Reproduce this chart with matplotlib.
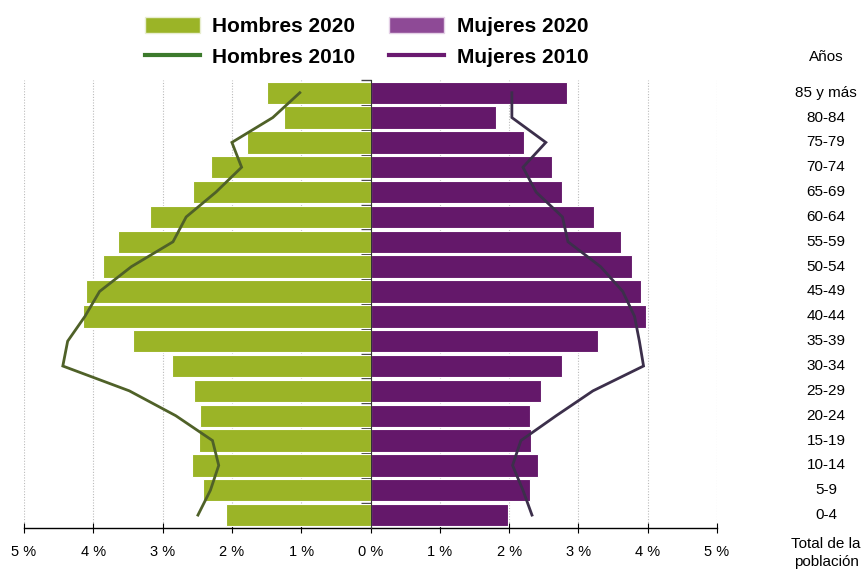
import matplotlib
matplotlib.use("Agg")
import matplotlib.pyplot as plt
from matplotlib.patches import Patch
from matplotlib.lines import Line2D
from matplotlib.transforms import blended_transform_factory
import numpy as np

plt.rcParams['font.family'] = ['Liberation Sans', 'DejaVu Sans']

ages = ["0-4", "5-9", "10-14", "15-19", "20-24", "25-29", "30-34", "35-39", "40-44",
        "45-49", "50-54", "55-59", "60-64", "65-69", "70-74", "75-79", "80-84", "85 y más"]
hombres_2020 = [2.08, 2.42, 2.58, 2.47, 2.46, 2.55, 2.86, 3.42, 4.15,
                4.11, 3.86, 3.64, 3.18, 2.56, 2.30, 1.78, 1.25, 1.50]
mujeres_2020 = [1.98, 2.30, 2.41, 2.31, 2.30, 2.46, 2.77, 3.28, 3.97,
                3.90, 3.77, 3.61, 3.23, 2.76, 2.62, 2.21, 1.81, 2.83]
hombres_2010 = [2.49, 2.31, 2.19, 2.28, 2.81, 3.48, 4.44, 4.37, 4.12,
                3.91, 3.45, 2.85, 2.66, 2.23, 1.86, 2.00, 1.41, 1.02]
mujeres_2010 = [2.33, 2.20, 2.05, 2.17, 2.68, 3.21, 3.94, 3.88, 3.81,
                3.64, 3.32, 2.85, 2.77, 2.39, 2.20, 2.53, 2.04, 2.04]
xticks = [-5, -4, -3, -2, -1, 0, 1, 2, 3, 4, 5]
xticklabels = ["5 %", "4 %", "3 %", "2 %", "1 %", "0 %", "1 %", "2 %", "3 %", "4 %", "5 %"]

GREEN = "#9BB427"
PURPLE = "#64186A"
GREEN_LINE = "#4F6128"
PURPLE_LINE = "#3C2F4B"

fig = plt.figure(figsize=(8.66, 5.73), dpi=100)
ax = fig.add_axes([24/866, 1 - 528/573, (717 - 24)/866, (528 - 80.3)/573])

y = np.arange(len(ages))
ax.barh(y, [-v for v in hombres_2020], height=0.9, color=GREEN, edgecolor="white", linewidth=0.8, zorder=2)
ax.barh(y, mujeres_2020, height=0.9, color=PURPLE, edgecolor="white", linewidth=0.8, zorder=2)
ax.plot([-v for v in hombres_2010], y, color=GREEN_LINE, lw=2, zorder=3, solid_joinstyle='miter')
ax.plot(mujeres_2010, y, color=PURPLE_LINE, lw=2, zorder=3, solid_joinstyle='miter')

ax.set_xlim(-5, 5)
ax.set_ylim(-0.52, 17.5)

for xv in xticks:
    ax.axvline(xv, color="#BBBBBB", lw=0.8, ls=(0, (1, 1.5)), zorder=1)

ax.spines['top'].set_visible(False)
ax.spines['right'].set_visible(False)
ax.spines['left'].set_position(('data', 0))
ax.spines['left'].set_color("#333333")
ax.spines['left'].set_zorder(4)
ax.spines['bottom'].set_color("black")
ax.spines['bottom'].set_linewidth(1.0)

ax.set_xticks(xticks)
ax.set_xticklabels(xticklabels, fontsize=10.5)
ax.tick_params(axis='x', direction='inout', length=7, width=0.8, pad=9)
ax.set_yticks(np.arange(len(ages)) + 0.5)
ax.set_yticklabels([])
ax.tick_params(axis='y', direction='out', length=7, width=1.0, color="#444444")

# Right-side age labels
tr = blended_transform_factory(fig.transFigure, ax.transData)
for yi, lab in zip(y, ages):
    ax.text(826/866, yi, lab, transform=tr, ha='center', va='center', fontsize=11, clip_on=False)
fig.text(826/866, 1 - 57/573, "Años", ha='center', va='center', fontsize=11)
fig.text(826/866, 1 - 553/573, "Total de la\npoblación", ha='center', va='center', fontsize=11,
         linespacing=1.35)

# Legend (column-major order so rows read 2020 / 2010)
handles = [Patch(facecolor=GREEN, edgecolor="#E8EED0"),
           Line2D([0], [0], color="#3C7A2C", lw=3),
           Patch(facecolor="#8E4A96", edgecolor="#E4D0E6"),
           Line2D([0], [0], color="#6A1A70", lw=3)]
labels = ["Hombres 2020", "Hombres 2010", "Mujeres 2020", "Mujeres 2010"]
leg = fig.legend(handles, labels, ncol=2, loc='center left',
                 bbox_to_anchor=(126/866, 1 - 42/573), frameon=False,
                 prop={'weight': 'bold', 'size': 15}, handlelength=2.65, handleheight=0.85,
                 columnspacing=1.6, handletextpad=0.6, labelspacing=0.55)

fig.savefig("out.png", dpi=100)
